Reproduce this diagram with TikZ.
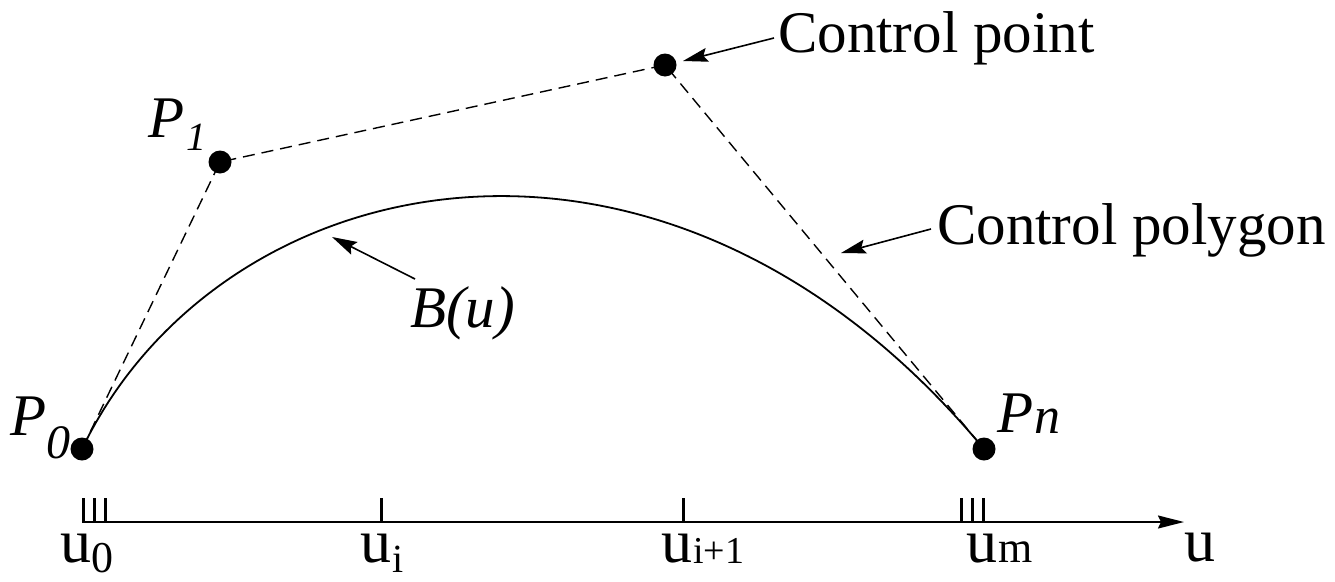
\documentclass[tikz,border=0pt]{standalone}
\usepackage{fontspec}
\setmainfont{Liberation Serif}
\usetikzlibrary{arrows.meta}
\begin{document}
\begin{tikzpicture}[x=1pt,y=-1pt,
  dot/.style={circle,fill=black,inner sep=0pt,minimum size=23pt},
  poly/.style={line width=1.4pt,dash pattern=on 12pt off 7pt},
  curveline/.style={line width=1.8pt},
  pointer/.style={line width=1.6pt,-{Stealth[length=25pt,width=14pt,inset=4pt]}},
  lbl/.style={anchor=base west,inner sep=0pt,font=\fontsize{59}{60}\selectfont},
  sub/.style={anchor=base west,inner sep=0pt},
  tick/.style={line width=3pt}]
\useasboundingbox (0,0) rectangle (1335,581);
% control points
\node[dot] (P0) at (82,449) {};
\node[dot] (P1) at (220,162) {};
\node[dot] (CP) at (665,65) {};
\node[dot] (Pn) at (984,449) {};
% control polygon
\draw[poly] (P0.center) -- (P1.center) -- (CP.center) -- (Pn.center);
% Bezier curve
\draw[curveline] (P0.center) .. controls (P1.center) and (CP.center) .. (Pn.center);
% labels
\node[lbl] (tcp) at (778,52) {Control point};
\node[lbl] (tpoly) at (937,244) {Control polygon};
\node[lbl] (tB) at (410,327) {\itshape B(u)};
\coordinate (cpS) at (774,38);
\coordinate (cpT) at (683,61);
\coordinate (polyS) at (931,229);
\coordinate (polyT) at (841,253);
\coordinate (bS) at (415,279);
\coordinate (bT) at (332,237);
\draw[pointer] (cpS) -- (cpT);
\draw[pointer] (polyS) -- (polyT);
\draw[pointer] (bS) -- (bT);
% point labels
\node[lbl] (lP0) at (10,435) {\itshape P};
\node[sub,font=\fontsize{48}{48}\selectfont\itshape] (lP0s) at (46,458) {0};
\node[lbl] (lP1) at (148,137) {\itshape P};
\node[sub,font=\fontsize{40}{40}\selectfont\itshape] (lP1s) at (186,150) {1};
\node[lbl] (lPn) at (997,432) {\itshape P};
\node[sub,font=\fontsize{52}{52}\selectfont\itshape] (lPns) at (1034,433) {n};
% axis
\coordinate (ax0) at (82,522);
\coordinate (ax1) at (1184,522);
\draw[line width=1.8pt,-{Stealth[length=26pt,width=13pt,inset=3pt]}] (ax0) -- (ax1);
\foreach \x in {83,94,105,381,683,961,972,983}
  \draw[tick] (\x,498) -- (\x,522);
% axis labels
\node[lbl,font=\fontsize{62}{62}\selectfont] (u0) at (60,562) {u};
\node[sub,font=\fontsize{44}{44}\selectfont] (u0s) at (91,572) {0};
\node[lbl,font=\fontsize{62}{62}\selectfont] (ui) at (360,562) {u};
\node[sub,font=\fontsize{40}{40}\selectfont] (uis) at (392,572) {i};
\node[lbl,font=\fontsize{62}{62}\selectfont] (ui1) at (661,562) {u};
\node[sub,font=\fontsize{38}{38}\selectfont] (ui1s) at (693,563) {i+1};
\node[lbl,font=\fontsize{62}{62}\selectfont] (um) at (966,562) {u};
\node[sub,font=\fontsize{44}{44}\selectfont] (ums) at (998,562) {m};
\node[lbl,font=\fontsize{62}{62}\selectfont] (uax) at (1184,561) {u};
\end{tikzpicture}
\end{document}
